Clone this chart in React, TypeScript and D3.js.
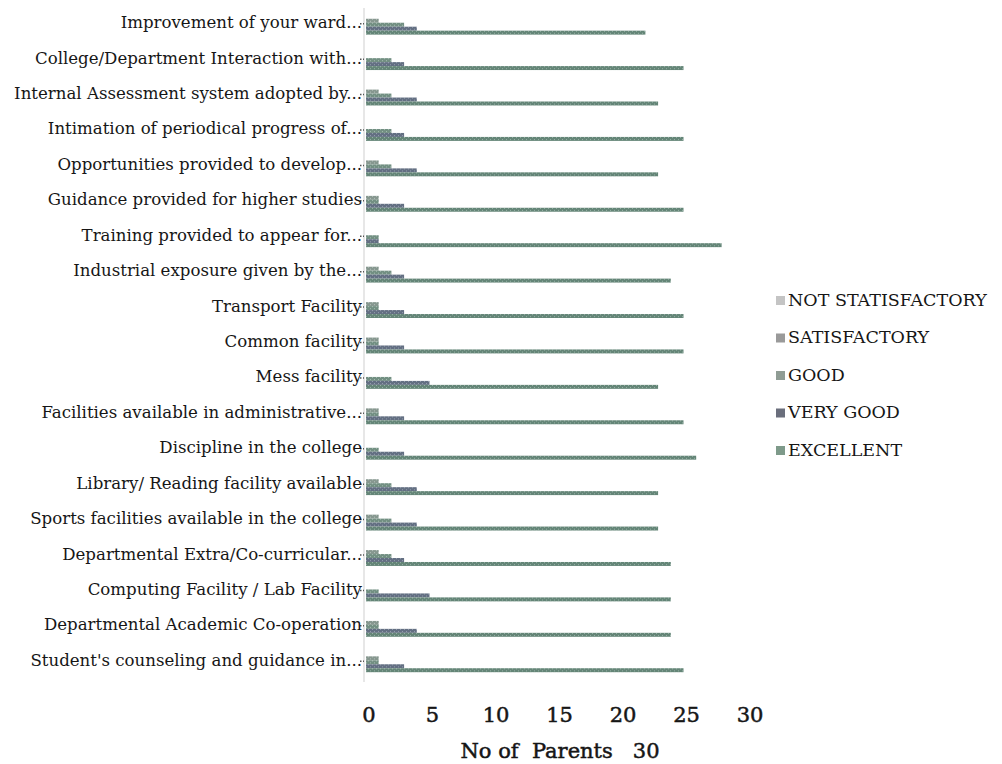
import React from "react";
import * as d3 from "d3";

const categories = [
  "Improvement  of  your  ward...",
  "College/Department Interaction with...",
  "Internal Assessment system adopted by...",
  "Intimation  of periodical progress of...",
  "Opportunities provided to develop...",
  "Guidance provided for higher studies",
  "Training provided to appear for...",
  "Industrial exposure given by the...",
  "Transport Facility",
  "Common facility",
  "Mess facility",
  "Facilities available in administrative...",
  "Discipline in the college",
  "Library/ Reading facility available",
  "Sports facilities available in the college",
  "Departmental Extra/Co-curricular...",
  "Computing Facility / Lab Facility",
  "Departmental Academic Co-operation",
  "Student's counseling and guidance in...",
];

const seriesNames = ["NOT STATISFACTORY", "SATISFACTORY", "GOOD", "VERY GOOD", "EXCELLENT"];

const notSatisfactory = [0, 0, 0, 0, 0, 0, 0, 0, 0, 0, 0, 0, 0, 0, 0, 0, 0, 0, 0];
const satisfactory = [1, 0, 1, 0, 1, 1, 0, 1, 1, 1, 0, 1, 0, 1, 1, 1, 0, 1, 1];
const good = [3, 2, 2, 2, 2, 1, 1, 2, 1, 1, 2, 1, 1, 2, 2, 2, 1, 1, 1];
const veryGood = [4, 3, 4, 3, 4, 3, 1, 3, 3, 3, 5, 3, 3, 4, 4, 3, 5, 4, 3];
const excellent = [22, 25, 23, 25, 23, 25, 28, 24, 25, 25, 23, 25, 26, 23, 23, 24, 24, 24, 25];

const seriesValues = [notSatisfactory, satisfactory, good, veryGood, excellent];
const xTicks = [0, 5, 10, 15, 20, 25, 30];

const baseColors = ["#aab5b4", "#86978f", "#728f82", "#636f82", "#648577"];
const dotColors = ["#d3dbd8", "#b3c0ba", "#a3bcb0", "#949eae", "#97b2a6"];
const legendColors = ["#c4c4c4", "#9a9a9a", "#8f9c94", "#6a6e7c", "#7e9a8a"];

export default function App() {
  const W = 1002;
  const H = 764;
  const x = d3.scaleLinear().domain([0, 30]).range([366, 747]);
  const y = d3.scaleBand<string>().domain(categories).range([6, 679]).paddingInner(0.44).paddingOuter(0.22);
  const ySub = d3.scaleBand<number>().domain(d3.range(seriesNames.length)).range([0, y.bandwidth()]).padding(0);
  const serif = "'DejaVu Serif', 'Liberation Serif', serif";

  return (
    <svg width={W} height={H} style={{ position: "absolute", left: 0, top: 0, background: "#fff" }}>
      <defs>
        {baseColors.map((c, i) => (
          <pattern key={i} id={`pat${i}`} width={4} height={4} patternUnits="userSpaceOnUse">
            <rect width={4} height={4} fill={c} />
            <rect x={0} y={0} width={1} height={1} fill={dotColors[i]} />
            <rect x={2} y={2} width={1} height={1} fill={dotColors[i]} />
          </pattern>
        ))}
      </defs>

      {/* category axis line */}
      <line x1={x(0) - 2} x2={x(0) - 2} y1={8} y2={682} stroke="#cfcfcf" strokeWidth={1} />
      {categories.map((c) => (
        <line key={c} x1={x(0) - 6} x2={x(0) - 2} y1={(y(c) ?? 0) + y.bandwidth() / 2}
          y2={(y(c) ?? 0) + y.bandwidth() / 2} stroke="#555" strokeWidth={1.5} strokeDasharray="1.5,1.5" />
      ))}

      {/* bars */}
      {categories.map((c, ci) => (
        <g key={c} transform={`translate(0,${(y(c) ?? 0) + 1})`}>
          {seriesValues.map((vals, si) =>
            vals[ci] > 0 ? (
              <rect key={si} x={x(0)} y={ySub(si)} width={x(vals[ci]) - x(0)} height={ySub.bandwidth()}
                fill={`url(#pat${si})`} />
            ) : null
          )}
        </g>
      ))}

      {/* category labels */}
      {categories.map((c) => (
        <text key={c} x={x(0) - 4} y={(y(c) ?? 0) + y.bandwidth() / 2} textAnchor="end" dominantBaseline="middle"
          fontFamily={serif} fontSize={16.6} fill="#161616">
          {c}
        </text>
      ))}

      {/* x tick labels */}
      {xTicks.map((t) => (
        <text key={t} x={x(t) + 3} y={722} textAnchor="middle" fontFamily={serif} fontSize={21}
          fill="#161616" stroke="#161616" strokeWidth={0.5}>
          {t}
        </text>
      ))}
      <text x={560} y={758} textAnchor="middle" fontFamily={serif} fontSize={21} fill="#161616"
        stroke="#161616" strokeWidth={0.5} xmlSpace="preserve">
        No of  Parents   30
      </text>

      {/* legend */}
      {seriesNames.map((s, i) => (
        <g key={s} transform={`translate(776,${301 + i * 37.5})`}>
          <rect x={0} y={-5} width={9} height={9} fill={legendColors[i]} />
          <text x={12} y={0} dominantBaseline="middle" fontFamily={serif} fontSize={17.5} fill="#161616">
            {s}
          </text>
        </g>
      ))}
    </svg>
  );
}
